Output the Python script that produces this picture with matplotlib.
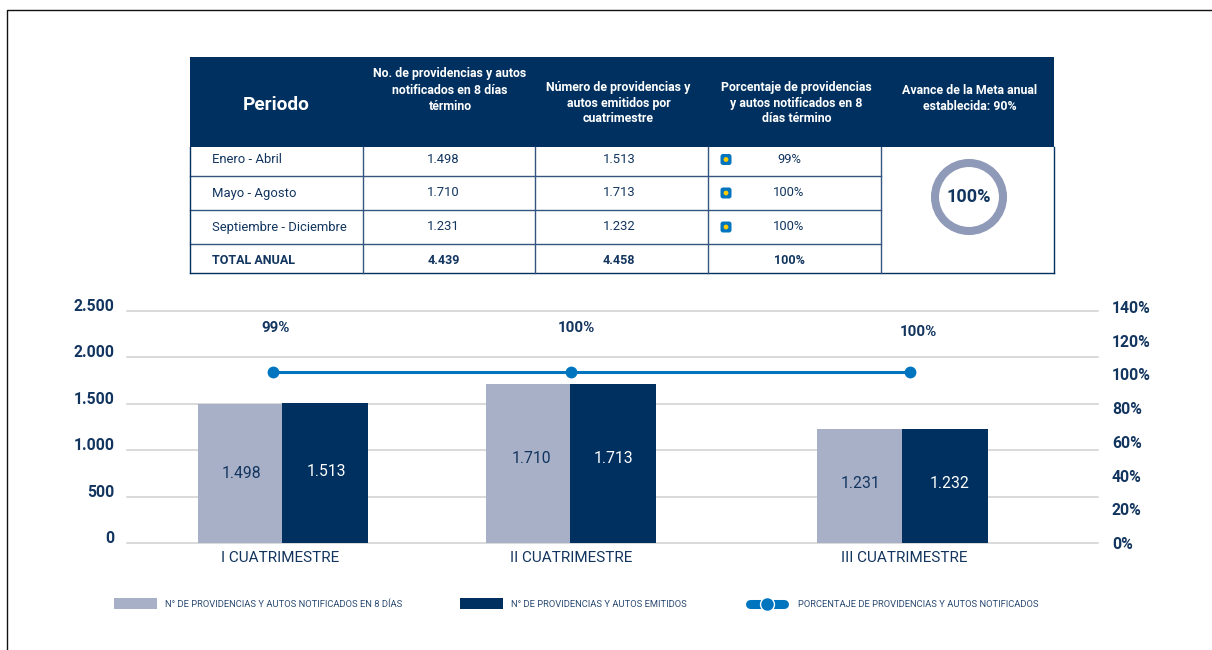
"""Providencias y autos por cuatrimestre: tabla resumen y barras con línea."""
import matplotlib
matplotlib.use("Agg")
import matplotlib.pyplot as plt
from matplotlib.lines import Line2D
from matplotlib.patches import Circle, FancyBboxPatch, Rectangle

W, H = 1212, 650
NAVY = "#00305F"
LIGHT = "#A8B0C8"
BLUE = "#0075BF"
GRID = "#D0D0D0"
TXT = "#12355F"
RULE = "#34557F"

# tabla
header = ["Periodo",
          "No. de providencias y autos\nnotificados en 8 días\ntérmino",
          "Número de providencias y\nautos emitidos por\ncuatrimestre",
          "Porcentaje de providencias\ny autos notificados en 8\ndías término",
          "Avance de la Meta anual\nestablecida: 90%"]
periodos = ["Enero - Abril", "Mayo - Agosto", "Septiembre - Diciembre", "TOTAL ANUAL"]
notificados_txt = ["1.498", "1.710", "1.231", "4.439"]
emitidos_txt = ["1.513", "1.713", "1.232", "4.458"]
porcentaje_txt = ["99%", "100%", "100%", "100%"]
avance = "100%"

# gráfico
cuatrimestres = ["I CUATRIMESTRE", "II CUATRIMESTRE", "III CUATRIMESTRE"]
notificados = [1498, 1710, 1231]
emitidos = [1513, 1713, 1232]
pct_etiqueta = ["99%", "100%", "100%"]
pct_linea = [101.4, 101.4, 101.4]
y_ticks = [0, 500, 1000, 1500, 2000, 2500]
pct_ticks = [0, 20, 40, 60, 80, 100, 120, 140]
leyenda = ["N° DE PROVIDENCIAS Y AUTOS NOTIFICADOS EN 8 DÍAS",
           "N° DE PROVIDENCIAS Y AUTOS EMITIDOS",
           "PORCENTAJE DE PROVIDENCIAS Y AUTOS NOTIFICADOS"]

plt.rcParams["font.family"] = ["Roboto", "DejaVu Sans"]
plt.rcParams["text.color"] = TXT


def axes_px(fig, x0, x1, y_top, y_bot):
    return fig.add_axes([x0 / W, 1 - y_bot / H, (x1 - x0) / W, (y_bot - y_top) / H])


fig = plt.figure(figsize=(W / 100, H / 100), dpi=100, facecolor="white")

# barras
ax = axes_px(fig, 127, 1098, 311, 543)
ax.set_xlim(127, 1098)
ax.set_ylim(0, 2500)
xc = [282, 570, 902]
ancho_izq = [84, 84, 85]
ancho_der = [86, 86, 86]
ax.bar([x - w for x, w in zip(xc, ancho_izq)], notificados, ancho_izq, align="edge", color=LIGHT, zorder=2)
ax.bar(xc, emitidos, ancho_der, align="edge", color=NAVY, zorder=2)
fmt = lambda v: f"{v:,}".replace(",", ".")
for x, y, v in zip([241, 531, 861], [752, 912, 645], notificados):
    ax.text(x, y, fmt(v), ha="center", va="center", fontsize=11.3, color=TXT, zorder=4)
for x, y, v in zip([326.5, 613, 949.5], [772, 912, 645], emitidos):
    ax.text(x, y, fmt(v), ha="center", va="center", fontsize=11.3, color="white", zorder=4)
ax.set_xticks([280, 571, 904], cuatrimestres, fontsize=11, color=TXT)
ax.tick_params(axis="x", length=0, pad=6)
ax.set_yticks(y_ticks, [fmt(v) for v in y_ticks], fontsize=11.3, fontweight="bold", color=TXT, va="baseline")
ax.tick_params(axis="y", length=0, pad=9)
ax.yaxis.grid(True, color=GRID, lw=1.1)
ax.set_axisbelow(True)
for gl in ax.get_ygridlines():
    gl.set_clip_on(False)
for s in ax.spines.values():
    s.set_visible(False)

# línea, eje derecho
ax2 = axes_px(fig, 127, 1098, 307, 543)
ax2.patch.set_visible(False)
ax2.set_xlim(127, 1098)
ax2.set_ylim(0, 140)
ax2.plot([273, 571, 910], pct_linea, color=BLUE, lw=2.2, marker="o", ms=7.5, zorder=3)
for x, y, t in zip([276, 576, 918], [127.5, 127.5, 125], pct_etiqueta):
    ax2.text(x, y, t, ha="center", va="center", fontsize=10.8, fontweight="bold", color=TXT)
ax2.set_xticks([])
ax2.yaxis.tick_right()
ax2.set_yticks(pct_ticks, [f"{v}%" for v in pct_ticks], fontsize=11.3, fontweight="bold", color=TXT)
ax2.tick_params(axis="y", length=0, pad=10)
for s in ax2.spines.values():
    s.set_visible(False)

# capa en píxeles: marco, tabla y leyenda
top = fig.add_axes([0, 0, 1, 1], zorder=5)
top.set_xlim(0, W)
top.set_ylim(H, 0)
top.axis("off")
top.patch.set_visible(False)
top.add_line(Line2D([7, 7, W], [H, 10, 10], color="#111111", lw=1))

cols = [190, 363, 535, 708, 881, 1054]
rows = [147, 175.5, 210, 243.5, 273]
row_y = [159.5, 193, 227, 260.5]
top.add_patch(Rectangle((190, 57), 864, 90, color=NAVY, lw=0))
head_x = [276, 450, 618.5, 796.5, 969.5]
head_y = [105, 90, 103, 103, 99]
for i, t in enumerate(header):
    if i == 0:
        top.text(head_x[i], head_y[i], t, ha="center", va="center", fontsize=13.7, fontweight="bold", color="white")
    else:
        top.text(head_x[i], head_y[i], t, ha="center", va="center", fontsize=8.9, fontweight="bold",
                 color="white", linespacing=1.3)
for y in rows[1:-1]:
    top.plot([190, 881], [y, y], color=RULE, lw=1)
top.plot([190, 1053.5], [rows[-1], rows[-1]], color=NAVY, lw=1)
for x in cols:
    x = min(x, 1053.5)
    top.plot([x, x], [147, rows[-1]], color=RULE if x not in (190, 1053.5) else NAVY, lw=1)
for i, cy in enumerate(row_y):
    w = "bold" if i == 3 else "normal"
    fs = 9 if i == 3 else 9.4
    top.text(211.5, cy, periodos[i], ha="left", va="center", fontsize=fs, fontweight=w)
    top.text(443.5, cy, notificados_txt[i], ha="center", va="center", fontsize=fs, fontweight=w)
    top.text(619, cy, emitidos_txt[i], ha="center", va="center", fontsize=fs, fontweight=w)
    top.text(789, cy, porcentaje_txt[i], ha="center", va="center", fontsize=fs, fontweight=w)
    if i < 3:
        top.add_patch(FancyBboxPatch((720.5, cy - 5.5), 11, 11, boxstyle="round,pad=0,rounding_size=2.5",
                                     fc=BLUE, ec="none"))
        top.add_patch(Circle((726, cy), 2.4, fc="#FFCC00", ec="none"))

# avance anual
top.add_patch(Circle((969, 197), 34, fc="none", ec="#8F9AB8", lw=5.8))
top.text(969, 197, avance, ha="center", va="center", fontsize=13, fontweight="bold")

# leyenda
top.add_patch(Rectangle((114, 598), 43, 11, color=LIGHT, lw=0))
top.add_patch(Rectangle((460, 598), 43, 11, color=NAVY, lw=0))
top.add_line(Line2D([750, 784], [604, 604], color=BLUE, lw=6.5, solid_capstyle="round"))
top.add_line(Line2D([767], [604], marker="o", ms=10, mfc=BLUE, mec="white", mew=1))
for x, t in zip([165, 511, 798], leyenda):
    top.text(x, 604.5, t, ha="left", va="center", fontsize=6.75, color="#2A4A72")

fig.savefig("out.png", dpi=100, facecolor="white")
